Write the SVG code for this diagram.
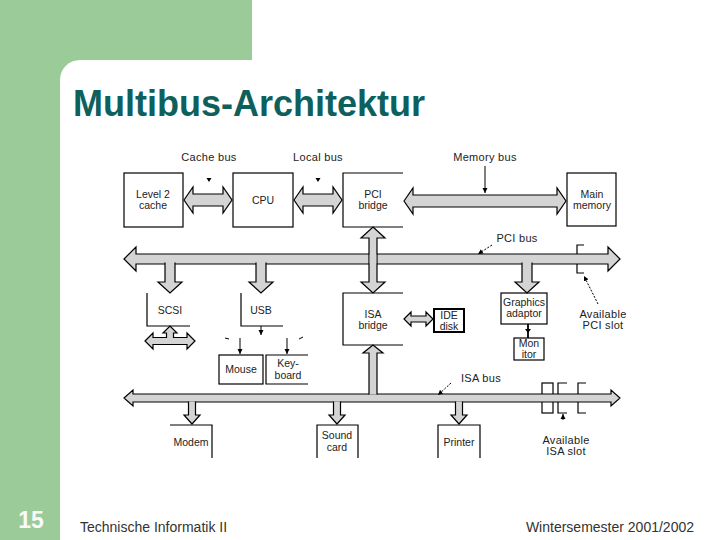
<svg xmlns="http://www.w3.org/2000/svg" width="720" height="540" viewBox="0 0 720 540">
<defs>
<style>
.bg{fill:#9ccb9a}
.box{fill:#fff;stroke:#000;stroke-width:1.2}
.open{fill:none;stroke:#000;stroke-width:1.2}
.bus{fill:#d4d4d4;stroke:#000;stroke-width:1.2;stroke-linejoin:miter}
.cover{fill:#d4d4d4;stroke:none}
.t{font-family:"Liberation Sans",Arial,sans-serif;font-size:10.5px;fill:#222;text-anchor:middle}
.l{font-family:"Liberation Sans",Arial,sans-serif;font-size:11px;fill:#222;text-anchor:middle;letter-spacing:0.3px}
.ptr{stroke:#000;stroke-width:1;fill:none}
.dptr{stroke:#000;stroke-width:1;fill:none;stroke-dasharray:2 1.5}
</style>
<marker id="ah" markerWidth="6" markerHeight="6" refX="5" refY="3" orient="auto" markerUnits="userSpaceOnUse">
<path d="M0,0.5 L5,3 L0,5.5 Z" fill="#000"/>
</marker>
</defs>
<rect width="720" height="540" fill="#fff"/>
<rect class="bg" x="0" y="0" width="252" height="90"/>
<rect class="bg" x="0" y="0" width="90" height="540"/>
<rect x="60" y="60" width="700" height="520" rx="20" fill="#fff"/>
<text x="73" y="116" font-family="'Liberation Sans',Arial,sans-serif" font-weight="bold" font-size="36" fill="#0e605c">Multibus-Architektur</text>
<text x="31" y="528" font-family="'Liberation Sans',Arial,sans-serif" font-weight="bold" font-size="23" fill="#fafafa" text-anchor="middle">15</text>
<text x="80" y="532" font-family="'Liberation Sans',Arial,sans-serif" font-size="14" fill="#333">Technische Informatik II</text>
<text x="694" y="532" font-family="'Liberation Sans',Arial,sans-serif" font-size="14" fill="#333" text-anchor="end">Wintersemester 2001/2002</text>

<g id="slots">
<path class="open" stroke-width="1.5" d="M584,245 H577 V273 H584"/>
<rect class="open" x="542" y="383" width="11" height="30"/>
<path class="open" d="M567,383 H558 V413 H567"/>
<path class="open" stroke-width="2" d="M586,383 H578 V413 H586"/>
</g>

<g id="node-l2cache"><rect class="box" x="124" y="173" width="59" height="54"/><text class="t" x="153" y="198">Level 2</text><text class="t" x="153" y="209">cache</text></g>
<g id="node-cpu"><rect class="box" x="233" y="173" width="60" height="54"/><text class="t" x="263" y="204">CPU</text></g>
<g id="node-pcibridge"><path class="box" d="M403,173 H343 V227 H403"/><text class="t" x="373" y="198">PCI</text><text class="t" x="373" y="209">bridge</text></g>
<g id="node-mainmem"><rect class="box" x="567" y="173" width="49" height="53"/><text class="t" x="592" y="198">Main</text><text class="t" x="592" y="209">memory</text></g>
<g id="node-scsi"><path class="open" d="M147,293 V326 H190"/><text class="t" x="170" y="314">SCSI</text></g>
<g id="node-usb"><path class="open" d="M241,293 V326 H283"/><text class="t" x="261" y="314">USB</text></g>
<g id="node-isabridge"><path class="box" d="M403,293 H343 V345 H403"/><text class="t" x="373" y="318">ISA</text><text class="t" x="373" y="329">bridge</text></g>
<g id="node-ide"><rect x="434" y="309" width="30" height="23" fill="#fff" stroke="#000" stroke-width="2"/><text class="t" x="449" y="319" font-size="11.5">IDE</text><text class="t" x="449" y="330" font-size="11.5">disk</text></g>
<g id="node-graphics"><rect class="box" x="501" y="293" width="46" height="31"/><text class="t" x="524" y="306">Graphics</text><text class="t" x="524" y="317">adaptor</text></g>
<g id="node-monitor"><rect class="box" x="514" y="338" width="30" height="22"/><text class="t" x="529" y="347" font-size="9">Mon</text><text class="t" x="529" y="357.5" font-size="9">itor</text></g>
<g id="node-mouse"><rect class="box" x="219" y="355" width="44" height="29"/><text class="t" x="241" y="373">Mouse</text></g>
<g id="node-keyboard"><path class="box" d="M308,355 H266 V384 H308"/><text class="t" x="288" y="367">Key-</text><text class="t" x="288" y="379">board</text></g>
<g id="node-modem"><path class="open" d="M170,425 H212 V458"/><text class="t" x="191" y="446">Modem</text></g>
<g id="node-sound"><path class="open" d="M317,458 V425 H358 V458"/><text class="t" x="337" y="439">Sound</text><text class="t" x="337" y="451">card</text></g>
<g id="node-printer"><path class="open" d="M438,458 V425 H480 V458"/><text class="t" x="459" y="446">Printer</text></g>

<g id="connectors">
<polygon class="bus" points="184,200 193,187 193,194 223,194 223,187 232,200 223,213 223,206 193,206 193,213"/>
<polygon class="bus" points="294,200 303,187 303,194 333,194 333,187 342,200 333,213 333,206 303,206 303,213"/>
<polygon class="bus" points="404,201 413,188 413,195 557,195 557,188 566,201 557,214 557,207 413,207 413,214"/>
<polygon class="bus" points="124,259 136,247 136,254 608,254 608,247 620,259 608,271 608,264 136,264 136,271"/>
<polygon class="bus" points="373,227 385,238 377,238 377,282 385,282 373,293 361,282 369,282 369,238 361,238"/>
<rect class="cover" x="369.7" y="254.7" width="6.6" height="8.6"/>
<path class="bus" d="M165,262.5 V282 H158 L170,293 L182,282 H175 V262.5"/>
<path class="bus" d="M256,262.5 V282 H249 L261,293 L273,282 H266 V262.5"/>
<path class="bus" d="M522,262.5 V282 H515 L527,293 L539,282 H532 V262.5"/>
<path class="bus" d="M145,341 L153,333 L153,337.5 L166.5,337.5 L166.5,333 L163,333 L170,326 L177,333 L173.5,333 L173.5,337.5 L187,337.5 L187,333 L195,341 L187,349 L187,344.5 L153,344.5 L153,349 Z"/>
<polygon class="bus" stroke-width="1.5" points="404,319 411,312 411,316 426,316 426,312 433,319 426,326 426,322 411,322 411,326"/>
<polygon class="bus" points="124,398 133,390 133,394 611,394 611,390 620,398 611,406 611,402 133,402 133,406"/>
<path class="bus" d="M369,394.6 V353 H363 L373,345 L383,353 H377 V394.6"/>
<path class="bus" d="M188.5,401.5 V415 H184 L192,424 L200,415 H195.5 V401.5"/>
<path class="bus" d="M333.5,401.5 V415 H329 L337,424 L345,415 H340.5 V401.5"/>
<path class="bus" d="M455.5,401.5 V415 H451 L459,424 L467,415 H462.5 V401.5"/>
<line x1="528" y1="324" x2="528" y2="338" stroke="#000" stroke-width="1.8"/>
<path d="M525,329 L531,329 L528,333 Z" fill="#000"/>
<line class="ptr" x1="261" y1="326" x2="261" y2="335" marker-end="url(#ah)"/>
<line class="ptr" x1="240" y1="338" x2="240" y2="354" marker-end="url(#ah)"/>
<line class="ptr" x1="287" y1="338" x2="287" y2="354" marker-end="url(#ah)"/>
<line class="ptr" x1="225" y1="338" x2="229" y2="339" stroke-width="1.5"/>
<line class="ptr" x1="299" y1="339" x2="303" y2="337" stroke-width="1.5"/>
<path d="M206.5,178 L211.5,178 L209,182 Z" fill="#000"/>
<path d="M315.5,178 L320.5,178 L318,182 Z" fill="#000"/>
<line class="ptr" x1="485" y1="166" x2="485" y2="193" marker-end="url(#ah)"/>
<line class="dptr" x1="492" y1="245" x2="478" y2="254" marker-end="url(#ah)"/>
<line class="dptr" x1="451" y1="383" x2="438" y2="395" marker-end="url(#ah)"/>
<line class="dptr" x1="598" y1="304" x2="584" y2="276" marker-end="url(#ah)"/>
<line class="ptr" x1="563" y1="420" x2="563" y2="414" marker-end="url(#ah)"/>
</g>

<g id="labels">
<text class="l" x="209" y="161">Cache bus</text>
<text class="l" x="318" y="161">Local bus</text>
<text class="l" x="485" y="161">Memory bus</text>
<text class="l" x="517" y="242">PCI bus</text>
<text class="l" x="603" y="318">Available</text>
<text class="l" x="603" y="329">PCI slot</text>
<text class="l" x="481" y="382">ISA bus</text>
<text class="l" x="566" y="444">Available</text>
<text class="l" x="566" y="455">ISA slot</text>
</g>
</svg>
